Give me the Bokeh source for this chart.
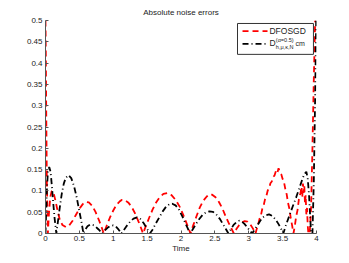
from bokeh.plotting import figure
from bokeh.models import Range1d, FixedTicker
from bokeh.core.properties import value
from bokeh.embed import file_html
from bokeh.resources import INLINE

# ---- data ----
red_t = [0, 0.005, 0.01, 0.02, 0.035, 0.05, 0.07, 0.09, 0.10, 0.12, 0.15, 0.18, 0.21, 0.25, 0.30,
         0.35, 0.40, 0.45, 0.50, 0.55, 0.59, 0.64, 0.69, 0.74, 0.79, 0.83, 0.86,
         0.90, 0.95, 1.00, 1.05, 1.10, 1.13, 1.17, 1.22, 1.27, 1.32, 1.37, 1.41, 1.44,
         1.48, 1.53, 1.58, 1.63, 1.68, 1.74, 1.80, 1.86, 1.92, 1.98, 2.03, 2.08, 2.11, 2.14,
         2.18, 2.23, 2.28, 2.33, 2.38, 2.42, 2.46, 2.51, 2.56, 2.61, 2.66, 2.70, 2.74, 2.78,
         2.82, 2.86, 2.90, 2.94, 2.98, 3.02, 3.06, 3.10,
         3.12, 3.14, 3.16, 3.18, 3.20, 3.22, 3.24, 3.26, 3.28, 3.30, 3.32, 3.34, 3.36, 3.38,
         3.40, 3.42, 3.44, 3.46, 3.48, 3.50, 3.52, 3.54, 3.56, 3.58, 3.60, 3.62, 3.64, 3.66,
         3.68, 3.70, 3.72, 3.74, 3.76, 3.78, 3.79, 3.80, 3.81, 3.82, 3.83, 3.84, 3.85, 3.86,
         3.87, 3.88, 3.90, 3.92, 3.94, 3.96, 3.98]
red_err = [0.5, 0.42, 0.30, 0.12, 0.0, 0.045, 0.085, 0.099, 0.10, 0.095, 0.075, 0.052, 0.033, 0.02, 0.015,
           0.019, 0.03, 0.044, 0.058, 0.069, 0.074, 0.073, 0.065, 0.05, 0.031, 0.014, 0.0,
           0.017, 0.037, 0.054, 0.068, 0.076, 0.079, 0.078, 0.073, 0.063, 0.048, 0.029, 0.013, 0.0,
           0.017, 0.037, 0.056, 0.072, 0.084, 0.093, 0.095, 0.090, 0.079, 0.063, 0.045, 0.025, 0.013, 0.0,
           0.019, 0.041, 0.062, 0.077, 0.087, 0.092, 0.091, 0.085, 0.074, 0.059, 0.040, 0.026, 0.013, 0.0,
           0.011, 0.020, 0.026, 0.029, 0.028, 0.022, 0.012, 0.0,
           0.012, 0.022, 0.035, 0.043, 0.058, 0.066, 0.080, 0.088, 0.101, 0.106, 0.118, 0.122, 0.133, 0.136,
           0.146, 0.141, 0.153, 0.144, 0.139, 0.128, 0.121, 0.104, 0.092, 0.072, 0.058, 0.036, 0.019, 0.0,
           0.018, 0.040, 0.055, 0.080, 0.092, 0.110, 0.085, 0.117, 0.095, 0.112, 0.070, 0.090, 0.045, 0.060,
           0.020, 0.0, 0.0, 0.06, 0.20, 0.36, 0.5]

blk_t = [0, 0.01, 0.02, 0.035, 0.055, 0.075, 0.095, 0.115, 0.135, 0.16,
         0.18, 0.21, 0.24, 0.27, 0.30, 0.34, 0.38, 0.42, 0.46, 0.50, 0.53, 0.56,
         0.59, 0.62, 0.66, 0.70, 0.74, 0.78, 0.81, 0.84,
         0.88, 0.92, 0.96, 1.00, 1.04, 1.08, 1.12,
         1.16, 1.20, 1.25, 1.30, 1.35, 1.40, 1.45, 1.50, 1.54,
         1.58, 1.63, 1.68, 1.73, 1.78, 1.83, 1.87, 1.92, 1.97, 2.02, 2.07, 2.10, 2.13,
         2.17, 2.22, 2.27, 2.32, 2.37, 2.42, 2.47, 2.52, 2.57, 2.62, 2.66, 2.70,
         2.74, 2.78, 2.82, 2.86, 2.90, 2.94, 2.98, 3.02, 3.05,
         3.09, 3.13, 3.17, 3.21, 3.25, 3.30, 3.35, 3.40, 3.44, 3.48, 3.51,
         3.55, 3.60, 3.65, 3.70, 3.75, 3.79, 3.82, 3.85, 3.87, 3.89, 3.91, 3.92,
         3.94, 3.96, 3.98, 3.995]
blk_err = [0.0, 0.05, 0.10, 0.145, 0.156, 0.145, 0.11, 0.07, 0.035, 0.0,
           0.024, 0.06, 0.093, 0.117, 0.131, 0.137, 0.130, 0.112, 0.085, 0.052, 0.028, 0.0,
           0.010, 0.017, 0.021, 0.020, 0.016, 0.010, 0.005, 0.0,
           0.008, 0.014, 0.018, 0.019, 0.016, 0.009, 0.0,
           0.009, 0.018, 0.028, 0.035, 0.038, 0.034, 0.024, 0.011, 0.0,
           0.009, 0.024, 0.038, 0.052, 0.063, 0.069, 0.070, 0.066, 0.056, 0.040, 0.022, 0.012, 0.0,
           0.009, 0.022, 0.034, 0.044, 0.050, 0.052, 0.051, 0.045, 0.035, 0.022, 0.011, 0.0,
           0.011, 0.021, 0.027, 0.030, 0.028, 0.022, 0.014, 0.006, 0.0,
           0.010, 0.020, 0.030, 0.038, 0.043, 0.045, 0.041, 0.032, 0.022, 0.010, 0.0,
           0.020, 0.042, 0.064, 0.085, 0.108, 0.127, 0.139, 0.145, 0.130, 0.090, 0.030, 0.0,
           0.0, 0.12, 0.32, 0.5]

xtick_vals = [0, 0.5, 1, 1.5, 2, 2.5, 3, 3.5, 4]
xtick_labels = ["0", "0.5", "1", "1.5", "2", "2.5", "3", "3.5", "4"]
ytick_vals = [0, 0.05, 0.1, 0.15, 0.2, 0.25, 0.3, 0.35, 0.4, 0.45, 0.5]
ytick_labels = ["0", "0.05", "0.1", "0.15", "0.2", "0.25", "0.3", "0.35", "0.4", "0.45", "0.5"]

legend_labels = ["DFOSGD", "D", "(\u03b1=0.5)", "h,\u03bc,\u03ba,N", "cm"]

FONT = "Liberation Sans"

p = figure(width=341, height=255, output_backend="svg", toolbar_location=None,
           x_range=Range1d(0, 4), y_range=Range1d(0, 0.5),
           min_border_left=45, min_border_right=25, min_border_top=20, min_border_bottom=20,
           title="Absolute noise errors")
p.title.align = "center"
p.title.text_font = FONT
p.title.text_font_size = "8px"
p.title.text_font_style = "normal"
p.title.text_color = "#222222"
p.title.standoff = 8
p.outline_line_color = None
p.xgrid.visible = False
p.ygrid.visible = False
p.background_fill_color = "white"
p.border_fill_color = "white"

for ax in (p.xaxis[0], p.yaxis[0]):
    ax.major_tick_in = 3
    ax.major_tick_out = 0
    ax.minor_tick_line_color = None
    ax.axis_line_color = "#555555"
    ax.major_tick_line_color = "#555555"
    ax.major_label_text_font = FONT
    ax.major_label_text_font_size = "8px"
    ax.major_label_text_color = "#222222"
    ax.major_label_standoff = 3
p.xaxis.major_label_standoff = 2

p.xaxis.ticker = FixedTicker(ticks=xtick_vals)
p.xaxis.major_label_overrides = {v: l for v, l in zip(xtick_vals, xtick_labels)}
p.yaxis.ticker = FixedTicker(ticks=ytick_vals)
p.yaxis.major_label_overrides = {v: l for v, l in zip(ytick_vals, ytick_labels)}
p.xaxis.axis_label = "Time"
p.xaxis.axis_label_text_font = FONT
p.xaxis.axis_label_text_font_size = "8px"
p.xaxis.axis_label_text_font_style = "normal"
p.xaxis.axis_label_text_color = "#222222"
p.xaxis.axis_label_standoff = 0

p.line(red_t, red_err, line_color="red", line_width=1.8, line_dash="6 4")
p.line(blk_t, blk_err, line_color="black", line_width=1.8, line_dash="6 3 1 3")

# manual legend (data coords on fixed ranges)
p.quad(left=[2.834], right=[3.955], top=[0.493], bottom=[0.4205],
       fill_color="white", line_color="#333333", line_width=1)
p.line([2.908, 3.277], [0.4749, 0.4749], line_color="red", line_width=1.8, line_dash="6 4")
p.line([2.908, 3.277], [0.4453, 0.4453], line_color="black", line_width=1.8, line_dash="6 3 1 3")
p.text(x=[3.306], y=[0.4754], text=[legend_labels[0]], text_font=value(FONT),
       text_font_size="8.5px", text_baseline="middle", text_color="#222222")
p.text(x=[3.306], y=[0.4462], text=[legend_labels[1]], text_font=value(FONT),
       text_font_size="8.5px", text_baseline="middle", text_color="#222222")
p.text(x=[3.400], y=[0.4550], text=[legend_labels[2]], text_font=value(FONT),
       text_font_size="5.5px", text_baseline="middle", text_color="#222222")
p.text(x=[3.400], y=[0.4385], text=[legend_labels[3]], text_font=value(FONT),
       text_font_size="5.5px", text_baseline="middle", text_color="#222222")
p.text(x=[3.690], y=[0.4465], text=[legend_labels[4]], text_font=value(FONT),
       text_font_size="7px", text_baseline="middle", text_color="#222222")

open("out.html", "w").write(file_html(p, INLINE))
